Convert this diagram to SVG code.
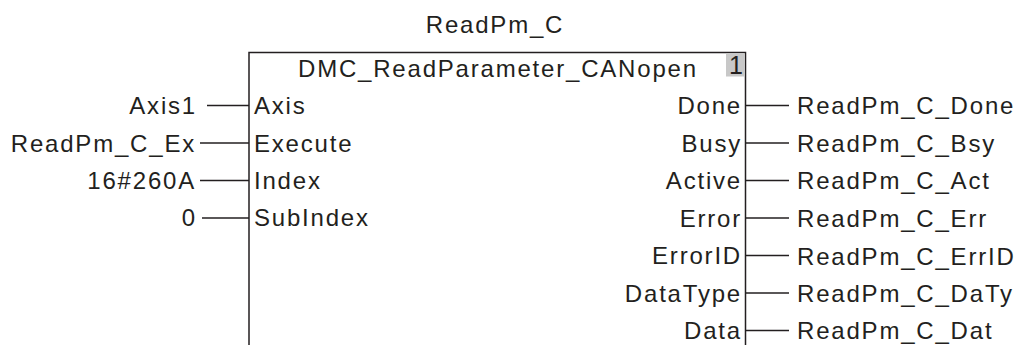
<svg xmlns="http://www.w3.org/2000/svg" width="1019" height="345" viewBox="0 0 1019 345">
<style>
text{font-family:"Liberation Sans",Arial,sans-serif;font-size:24px;letter-spacing:1.8px;fill:#231f20}
.e{text-anchor:end}
.w{stroke:#231f20;stroke-width:1.5;fill:none}
</style>
<rect width="1019" height="345" fill="#fff"/>
<g id="fb">
<text x="495" y="33" text-anchor="middle">ReadPm_C</text>
<path class="w" d="M249,345 V52.5 H745.5 V345"/>
<rect x="726" y="53.5" width="19" height="23" fill="#c8c8c8"/>
<text x="736" y="74" text-anchor="middle" style="letter-spacing:0;font-size:25px">1</text>
<text x="298" y="77">DMC_ReadParameter_CANopen</text>
<text x="254" y="114">Axis</text>
<text x="254" y="152">Execute</text>
<text x="254" y="189">Index</text>
<text x="254" y="226">SubIndex</text>
<text class="e" x="742" y="114">Done</text>
<text class="e" x="742" y="152">Busy</text>
<text class="e" x="742" y="189">Active</text>
<text class="e" x="742" y="227">Error</text>
<text class="e" x="742" y="264">ErrorID</text>
<text class="e" x="742" y="302">DataType</text>
<text class="e" x="742" y="339">Data</text>
</g>
<g id="inputs">
<text class="e" x="197" y="114">Axis1</text>
<text class="e" x="196" y="152">ReadPm_C_Ex</text>
<text class="e" x="196" y="189">16#260A</text>
<text class="e" x="197" y="226">0</text>
</g>
<g id="outputs">
<text x="797" y="114">ReadPm_C_Done</text>
<text x="797" y="152">ReadPm_C_Bsy</text>
<text x="797" y="189">ReadPm_C_Act</text>
<text x="797" y="227">ReadPm_C_Err</text>
<text x="797" y="265">ReadPm_C_ErrID</text>
<text x="797" y="302">ReadPm_C_DaTy</text>
<text x="797" y="339">ReadPm_C_Dat</text>
</g>
<g id="connectors" class="w">
<path d="M207,105.5 H249"/>
<path d="M200,143 H249"/>
<path d="M200,180.5 H249"/>
<path d="M202,218 H249"/>
<path d="M745.5,105.5 H789"/>
<path d="M745.5,143 H789"/>
<path d="M745.5,180.5 H789"/>
<path d="M745.5,218 H789"/>
<path d="M745.5,255.5 H789"/>
<path d="M745.5,293 H789"/>
<path d="M745.5,330.5 H789"/>
</g>
</svg>
